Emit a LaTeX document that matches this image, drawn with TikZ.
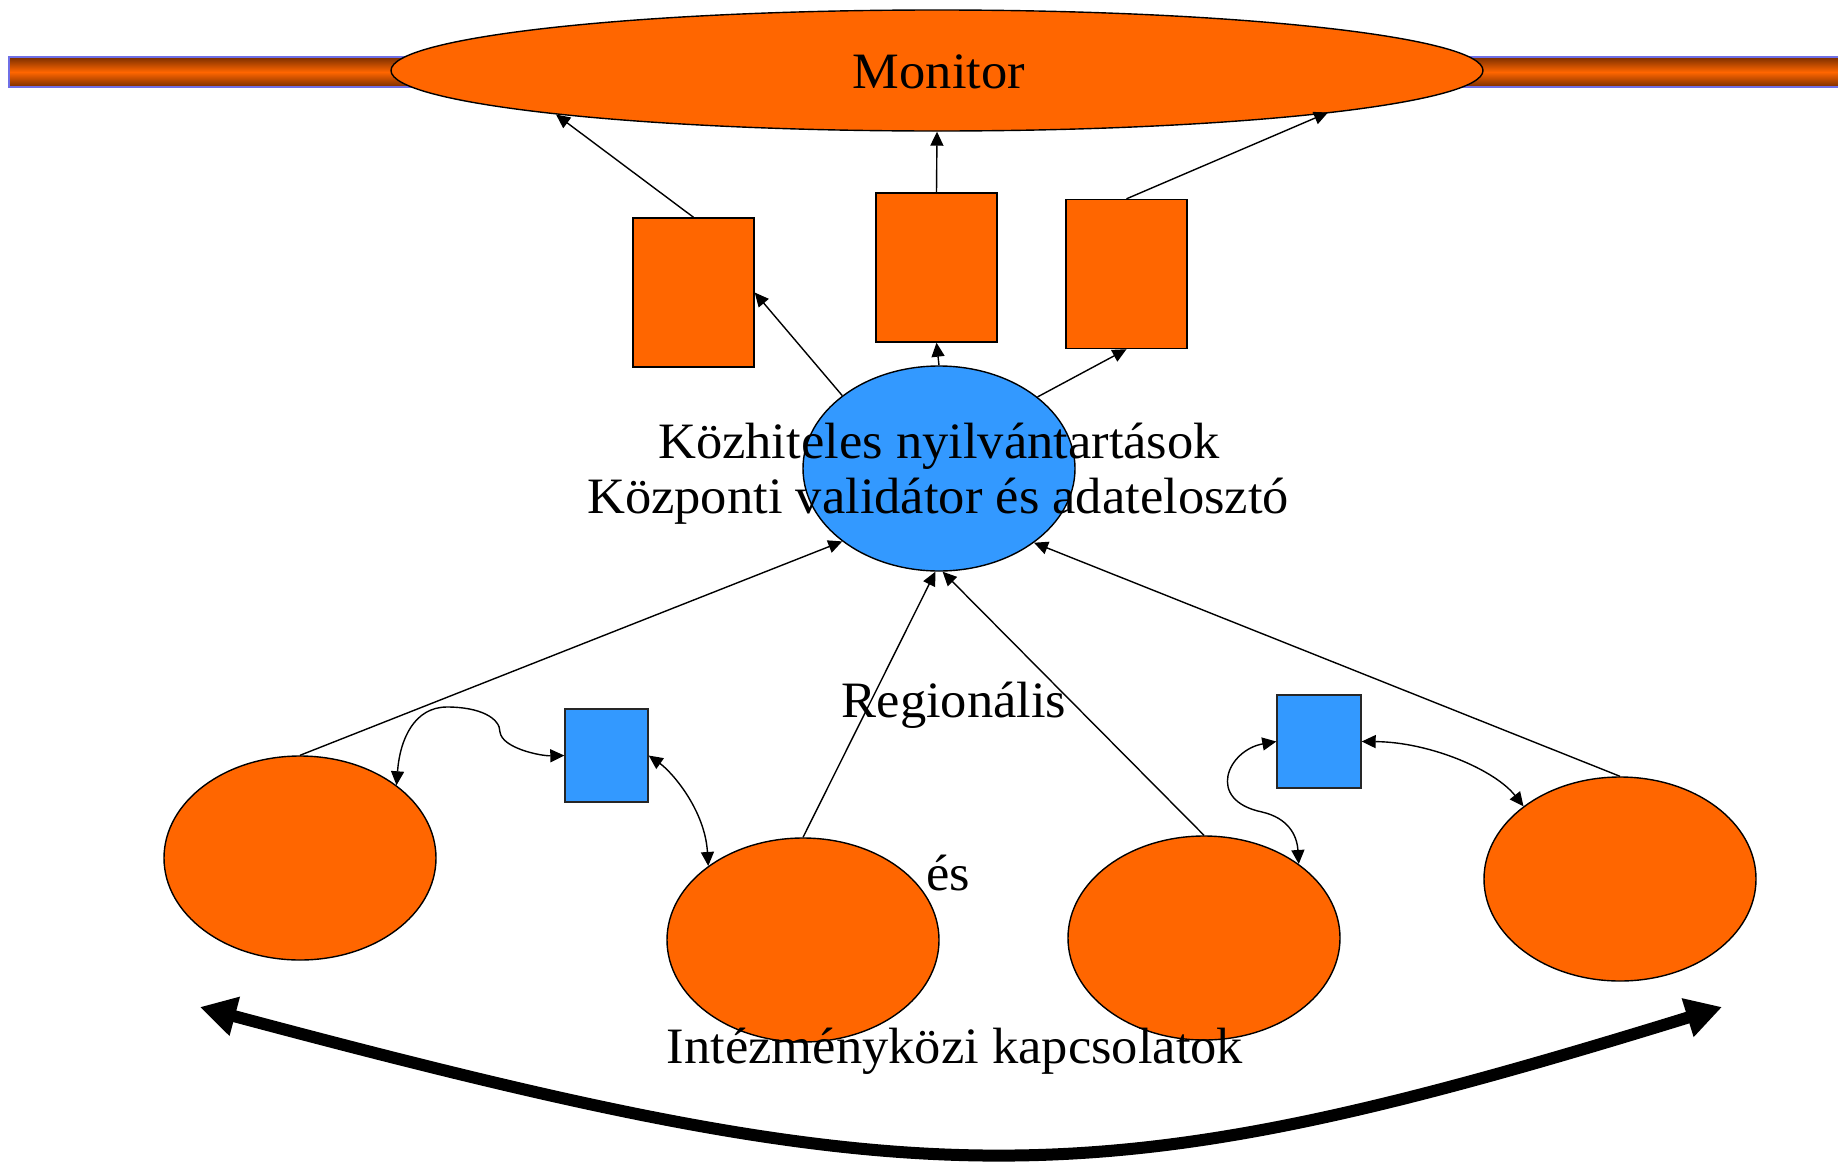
\documentclass[tikz,border=0pt]{standalone}
\usepackage{fontspec}
\setmainfont[FakeStretch=1.03]{Liberation Serif}
\usetikzlibrary{arrows.meta,shapes.geometric}
\definecolor{orng}{HTML}{FF6600}
\definecolor{blu}{HTML}{3399FF}
\definecolor{barline}{HTML}{6F6FE6}
\definecolor{bardark}{HTML}{7A2E00}
\tikzset{
  orell/.style={ellipse, draw=black, line width=1.4pt, fill=orng, inner sep=0pt, minimum width=272pt, minimum height=204pt},
  orbox/.style={rectangle, draw=black, line width=1.4pt, fill=orng, inner sep=0pt, minimum width=121pt, minimum height=149pt},
  bluebox/.style={rectangle, draw=black!85, line width=1.4pt, fill=blu, inner sep=0pt, minimum width=83pt, minimum height=93pt},
  lbl/.style={inner sep=0pt, anchor=base, font=\fontsize{51}{55}\selectfont},
  conn/.style={line width=1.4pt, -{Triangle[length=14pt,width=13pt]}},
  dconn/.style={line width=1.4pt, {Triangle[length=14pt,width=13pt]}-{Triangle[length=14pt,width=13pt]}},
  bigarrow/.style={line width=12pt, {Triangle[length=36pt,width=38pt]}-{Triangle[length=36pt,width=38pt]}}
}
\begin{document}
\begin{tikzpicture}[x=1pt,y=-1pt]
\useasboundingbox (0,0) rectangle (1838,1162);
% bar
\shade[top color=bardark, bottom color=bardark, middle color=orng] (9,57) rectangle (1842,87);
\draw[barline, line width=1.6pt] (1842,57) -- (9,57) -- (9,87) -- (1842,87);
% monitor
\node[orell, minimum width=1092pt, minimum height=121pt] (Mon) at (937,70.5) {};
% top boxes
\node[orbox] (R1) at (693.5,292.5) {};
\node[orbox] (R2) at (936.5,267.5) {};
\node[orbox] (R3) at (1126.5,274) {};
% central ellipse
\node[ellipse, draw=black, line width=1.4pt, fill=blu, inner sep=0pt, minimum width=272pt, minimum height=205pt] (B) at (939,468.5) {};
% bottom ellipses
\node[orell] (E1) at (300,858) {};
\node[orell] (E2) at (803,940) {};
\node[orell] (E3) at (1204,938) {};
\node[orell] (E4) at (1620,879) {};
% blue squares
\node[bluebox] (S1) at (606.5,755.5) {};
\node[bluebox, minimum width=84pt] (S2) at (1319,741.5) {};
% connectors
\draw[conn] (R1.north) -- ([shift={(-381,44)}]Mon.center);
\draw[conn] (R2.north) -- (Mon.south);
\draw[conn] (R3.north) -- ([shift={(391,42)}]Mon.center);
\draw[conn] (B.143.9) -- (R1.east);
\draw[conn] (B.north) -- (R2.south);
\draw[conn] (B.36.8) -- (R3.south);
\draw[conn] (E1.north) -- (B.217.5);
\draw[conn] (E2.north) -- (B.268);
\draw[conn] (E3.north) -- (B.272);
\draw[conn] (E4.north) -- (B.322.5);
% curved double connectors
\draw[dconn] (E1.37) .. controls (400,738) and (415,707) .. (447,707) .. controls (480,707) and (500,718) .. (500,732) .. controls (502,748) and (540,756) .. (S1.west);
\draw[dconn] (S1.east) .. controls (672,772) and (705,810) .. (E2.142.7);
\draw[dconn] (S2.west) .. controls (1228,750) and (1205,800) .. (1262,812) .. controls (1288,818) and (1297,835) .. (E3.38.4);
\draw[dconn] (S2.east) .. controls (1430,742) and (1495,770) .. (E4.143.4);
% big arrow
\coordinate (BL) at (200,1007);
\coordinate (BR) at (1722,1007);
\draw[bigarrow] (BL) .. controls (930,1202) and (1090,1202) .. (BR);
% labels
\node[lbl] (MonT) at (939,88) {Monitor};
\node[lbl] (T1) at (939,458) {Közhiteles nyilvántartások};
\node[lbl] (T2) at (938,513) {Központi validátor és adatelosztó};
\node[lbl] (T3) at (954,717) {Regionális};
\node[lbl] (T4) at (948,890) {és};
\node[lbl] (T5) at (955,1063) {Intézményközi kapcsolatok};
\end{tikzpicture}
\end{document}
